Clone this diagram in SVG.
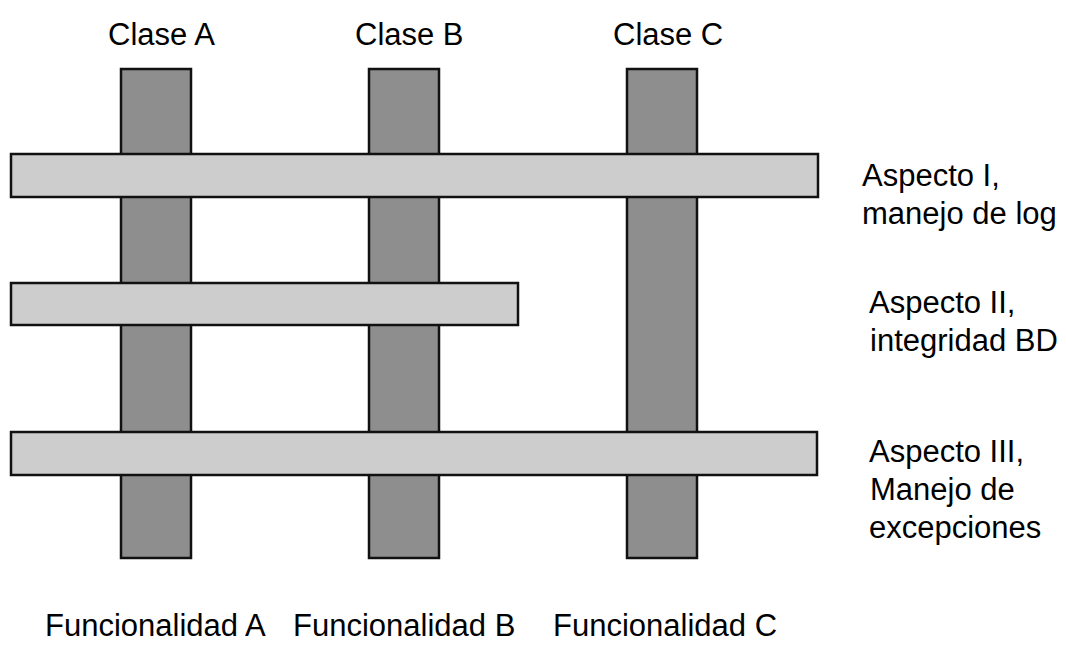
<svg xmlns="http://www.w3.org/2000/svg" width="1066" height="652" viewBox="0 0 1066 652">
  <style>
    .col { fill: #8e8e8e; stroke: #111; stroke-width: 2.5; }
    .row { fill: #cdcdcd; stroke: #111; stroke-width: 2.5; }
    text { font-family: "Liberation Sans", Arial, sans-serif; fill: #000; }
    .head { font-size: 31px; }
    .side { font-size: 31px; }
    .foot { font-size: 31px; }
  </style>
  <rect width="1066" height="652" fill="#fff"/>

  <!-- class columns -->
  <g id="clase-a"><rect class="col" x="121" y="69" width="70" height="489"/></g>
  <g id="clase-b"><rect class="col" x="369" y="69" width="70" height="489"/></g>
  <g id="clase-c"><rect class="col" x="627" y="69" width="70" height="489"/></g>

  <!-- aspect bands crossing the columns -->
  <g id="aspecto-1"><rect class="row" x="11" y="154" width="807" height="43"/></g>
  <g id="aspecto-2"><rect class="row" x="11" y="283" width="507" height="42"/></g>
  <g id="aspecto-3"><rect class="row" x="11" y="432" width="806" height="43"/></g>

  <g id="labels">
    <text class="head" x="108" y="45">Clase A</text>
    <text class="head" x="355" y="45">Clase B</text>
    <text class="head" x="613" y="45">Clase C</text>

    <text class="side" x="862" y="186">Aspecto I,</text>
    <text class="side" x="862" y="224">manejo de log</text>

    <text class="side" x="869" y="313">Aspecto II,</text>
    <text class="side" x="870" y="351">integridad BD</text>

    <text class="side" x="869" y="462">Aspecto III,</text>
    <text class="side" x="870" y="500">Manejo de</text>
    <text class="side" x="869" y="538">excepciones</text>

    <text class="foot" x="45" y="636">Funcionalidad A</text>
    <text class="foot" x="293" y="636">Funcionalidad B</text>
    <text class="foot" x="553" y="636">Funcionalidad C</text>
  </g>
</svg>
